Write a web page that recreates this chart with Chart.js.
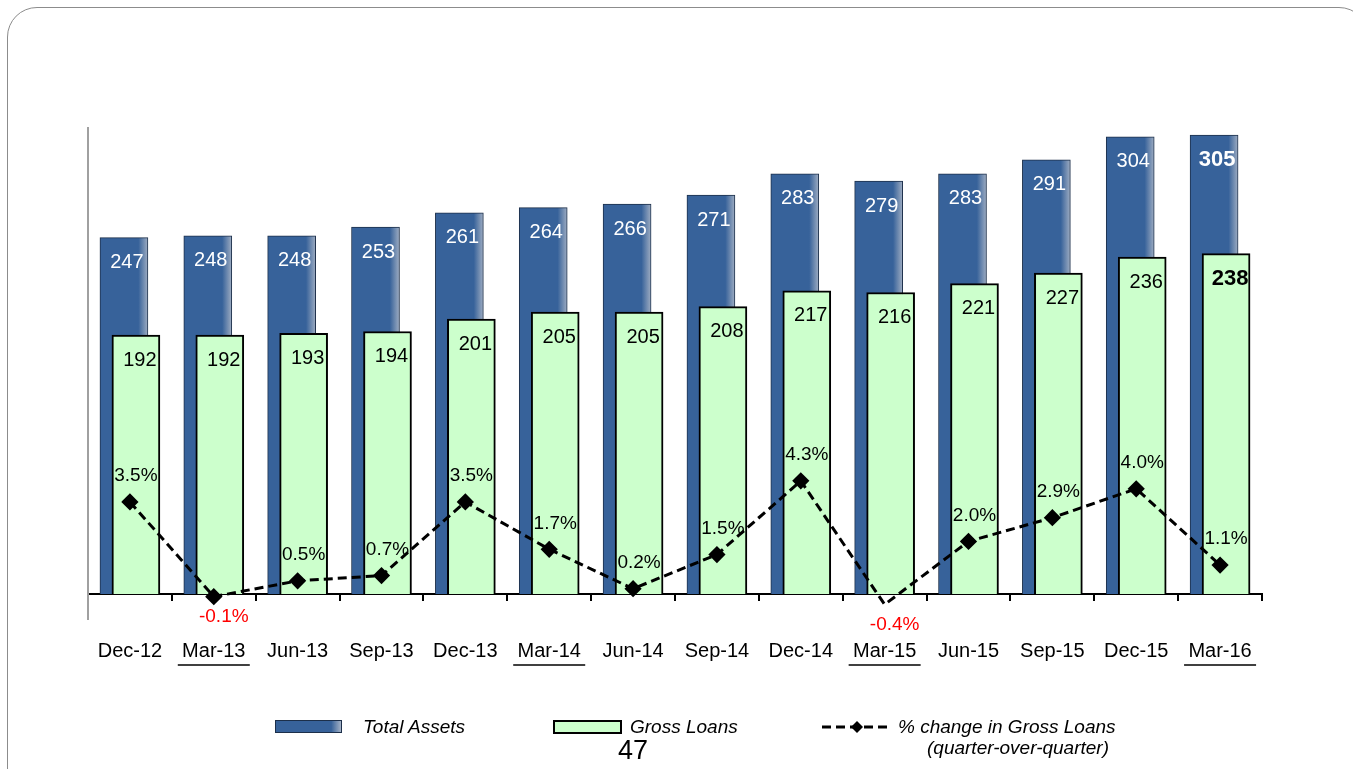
<!DOCTYPE html>
<html>
<head>
<meta charset="utf-8">
<script src="https://cdn.jsdelivr.net/npm/chart.js@4.4.1/dist/chart.umd.min.js"></script>
<style>
  body { margin: 0; width: 1353px; height: 769px; overflow: hidden; background: #fff; font-family: 'Liberation Sans', Arial, sans-serif; }
  #frame { position: absolute; left: 7px; top: 7px; width: 1360px; height: 820px; border: 1.5px solid #8c8c8c; border-radius: 30px; }
  #grafico { position: absolute; left: 0; top: 0; }
  .leg { position: absolute; font-style: italic; font-size: 19px; color: #000; white-space: nowrap; }
  .box { position: absolute; width: 65px; height: 11px; }
  #pagina { position: absolute; left: 618px; top: 735px; font-size: 27px; }
</style>
</head>
<body>
<div id="frame"></div>
<canvas id="grafico" width="1353" height="769"></canvas>

<div class="box" style="left:275px; top:720px; border:1px solid #1c2f4a; background:linear-gradient(90deg,#37629a 0%,#37629a 85%,#a4b2c6 100%);"></div>
<div class="leg" style="left:363px; top:716px;">Total Assets</div>
<div class="box" style="left:553px; top:720px; border:2px solid #000; height:10px; background:#ccffcc;"></div>
<div class="leg" style="left:630px; top:716px;">Gross Loans</div>
<svg style="position:absolute; left:822px; top:719px;" width="70" height="16">
  <line x1="0" y1="8" x2="70" y2="8" stroke="#000" stroke-width="3" stroke-dasharray="9,5"/>
  <polygon points="35,2 41,8 35,14 29,8" fill="#000"/>
</svg>
<div class="leg" style="left:898px; top:716px;">% change in Gross Loans</div>
<div class="leg" style="left:927px; top:737px;">(quarter-over-quarter)</div>
<div id="pagina">47</div>

<script>
var trimestres = ["Dec-12", "Mar-13", "Jun-13", "Sep-13", "Dec-13", "Mar-14", "Jun-14", "Sep-14", "Dec-14", "Mar-15", "Jun-15", "Sep-15", "Dec-15", "Mar-16"];
var activos = [247, 248, 248, 253, 261, 264, 266, 271, 283, 279, 283, 291, 304, 305];
var prestamos = [192, 192, 193, 194, 201, 205, 205, 208, 217, 216, 221, 227, 236, 238];
var cambio = [3.5, -0.1, 0.5, 0.7, 3.5, 1.7, 0.2, 1.5, 4.3, -0.4, 2.0, 2.9, 4.0, 1.1];

var fuente = "'Liberation Sans', Arial, sans-serif";
var ultimo = trimestres.length - 1;

// bars sit a little left / right of the category centre
var corrimiento = 0.0715;

function degradado(ctx) {
    if (ctx.type !== 'data') return '#37629a';
    var xs = ctx.chart.scales.xa;
    var cx = xs.getPixelForValue(ctx.dataIndex);
    if (!isFinite(cx)) return '#37629a';
    var g = ctx.chart.ctx.createLinearGradient(cx - 24, 0, cx + 24, 0);
    g.addColorStop(0, '#37629a');
    g.addColorStop(0.8, '#37629a');
    g.addColorStop(1, '#9fadc2');
    return g;
}

var etiquetas = {
    id: 'etiquetas',
    afterDatasetsDraw: function (chart) {
        var c = chart.ctx;
        c.save();
        c.textAlign = 'center';
        c.textBaseline = 'middle';
        chart.getDatasetMeta(2).data.forEach(function (el, i) {
            c.font = (i === ultimo ? 'bold 22px ' : '20px ') + fuente;
            c.fillStyle = '#fff';
            c.fillText(activos[i], el.x + 3, el.y + 25);
        });
        chart.getDatasetMeta(1).data.forEach(function (el, i) {
            c.font = (i === ultimo ? 'bold 22px ' : '20px ') + fuente;
            c.fillStyle = '#000';
            c.fillText(prestamos[i], el.x + 4, el.y + 25);
        });
        c.font = '19px ' + fuente;
        chart.getDatasetMeta(0).data.forEach(function (el, i) {
            var v = cambio[i];
            if (v < 0) {
                c.fillStyle = '#ff0000';
                c.fillText(v.toFixed(1) + '%', el.x + 10, el.y + 20);
            } else {
                c.fillStyle = '#000';
                c.fillText(v.toFixed(1) + '%', el.x + 6, el.y - 26);
            }
        });
        c.restore();
    },
    afterDraw: function (chart) {
        var c = chart.ctx;
        var a = chart.chartArea;
        var xs = chart.scales.x;
        c.save();
        // left axis line
        c.strokeStyle = '#a0a0a0';
        c.lineWidth = 2;
        c.beginPath();
        c.moveTo(a.left, a.top);
        c.lineTo(a.left, a.bottom + 26);
        c.stroke();
        // underline the March quarters
        c.strokeStyle = '#000';
        c.lineWidth = 1.5;
        trimestres.forEach(function (t, i) {
            if (t.indexOf('Mar') === 0) {
                var cx = xs.getPixelForValue(i);
                c.beginPath();
                c.moveTo(cx - 36, a.bottom + 71);
                c.lineTo(cx + 36, a.bottom + 71);
                c.stroke();
            }
        });
        c.restore();
    }
};

var datos = {
    labels: trimestres,
    datasets: [{
        type: 'line',
        label: '% change in Gross Loans',
        data: cambio,
        xAxisID: 'x',
        yAxisID: 'y1',
        borderColor: '#000',
        borderWidth: 3,
        borderDash: [9, 5],
        pointStyle: 'rectRot',
        pointRadius: 6.5,
        pointBackgroundColor: '#000',
        pointBorderColor: '#000',
        tension: 0,
        clip: false,
        order: 0
    }, {
        type: 'bar',
        label: 'Gross Loans',
        data: prestamos.map(function (v, i) { return { x: i, y: v }; }),
        xAxisID: 'xg',
        yAxisID: 'y',
        backgroundColor: '#ccffcc',
        borderColor: '#000',
        borderWidth: 2,
        barThickness: 48,
        grouped: false,
        order: 1
    }, {
        type: 'bar',
        label: 'Total Assets',
        data: activos.map(function (v, i) { return { x: i, y: v }; }),
        xAxisID: 'xa',
        yAxisID: 'y',
        backgroundColor: degradado,
        borderColor: '#1c2f4a',
        borderWidth: 1,
        barThickness: 48,
        grouped: false,
        order: 2
    }]
};

var opciones = {
    responsive: false,
    animation: false,
    layout: { padding: { left: 88, right: 91, top: 127, bottom: 85 } },
    plugins: {
        legend: { display: false },
        tooltip: { enabled: false }
    },
    scales: {
        x: {
            type: 'category',
            offset: true,
            afterFit: function (s) { s.height = 90; },
            grid: { display: true, drawOnChartArea: false, drawTicks: true, tickLength: 7, color: '#000', lineWidth: 2, offset: true },
            border: { display: true, color: '#000', width: 2 },
            ticks: { color: '#000', font: { family: fuente, size: 20 }, padding: 38, maxRotation: 0, autoSkip: false }
        },
        xa: { type: 'linear', display: false, offset: false, min: -0.5 + corrimiento, max: ultimo + 0.5 + corrimiento },
        xg: { type: 'linear', display: false, offset: false, min: -0.5 - corrimiento, max: ultimo + 0.5 - corrimiento },
        y: { type: 'linear', display: false, min: 45.7, max: 309.5 },
        y1: { type: 'linear', display: false, min: 0, max: 17.75 }
    }
};

var grafico = new Chart(document.getElementById('grafico'), {
    type: 'bar',
    data: datos,
    options: opciones,
    plugins: [etiquetas]
});
grafico.update();
</script>
</body>
</html>
